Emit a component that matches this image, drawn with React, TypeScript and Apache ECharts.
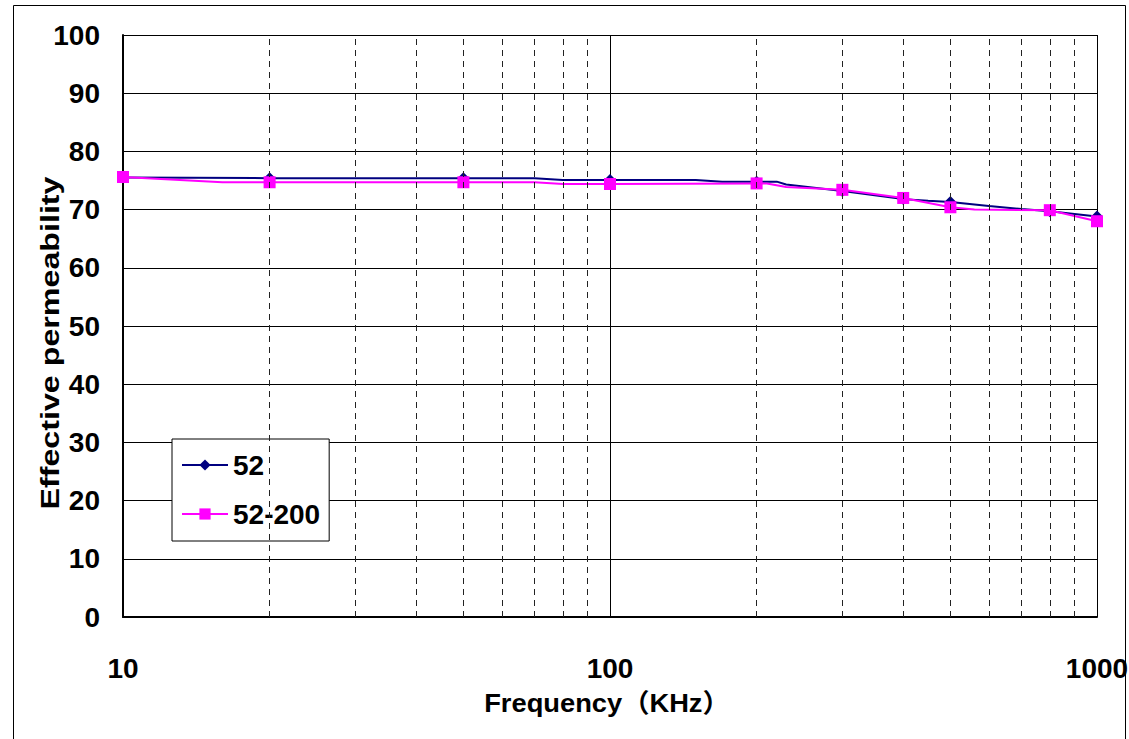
import React, { useEffect, useRef } from "react";
import * as echarts from "echarts";

// Frequency (KHz) and effective permeability for sample "52"
const freq52 = [10, 20, 50, 70, 80, 100, 150, 170, 200, 220, 230, 300, 400, 450, 500, 600, 700, 800, 1000];
const perm52 = [75.5, 75.4, 75.4, 75.4, 75.1, 75.1, 75.1, 74.8, 74.8, 74.8, 74.3, 73.2, 71.8, 71.5, 71.3, 70.6, 70.1, 69.7, 68.8];

// Frequency (KHz) and effective permeability for sample "52-200"
const freq52200 = [10, 16, 20, 50, 70, 80, 100, 200, 210, 230, 300, 400, 500, 560, 800, 1000];
const perm52200 = [75.6, 74.7, 74.7, 74.7, 74.7, 74.4, 74.4, 74.5, 74.5, 73.9, 73.4, 72.0, 70.4, 70.0, 69.9, 68.0];

// Frequencies that carry a marker
const markedFreqs = [10, 20, 50, 100, 200, 300, 400, 500, 800, 1000];

// Minor (dashed) vertical grid lines
const minorFreqs = [20, 30, 40, 50, 60, 70, 80, 90, 200, 300, 400, 500, 600, 700, 800, 900];

const seriesNames = ["52", "52-200"];
const xTitle = "Frequency（KHz）";
const yTitle = "Effective permeability";

const NARROW = "'Liberation Sans Narrow', 'Arial Narrow', 'Liberation Sans', Arial, sans-serif";
const SANS = "'Liberation Sans', Arial, 'Noto Sans CJK SC', sans-serif";

function build(freqs: number[], vals: number[]) {
  return freqs.map((f, i) =>
    markedFreqs.includes(f) ? { value: [f, vals[i]] } : { value: [f, vals[i]], symbol: "none" }
  );
}

export default function App() {
  const ref = useRef<HTMLDivElement>(null);
  useEffect(() => {
    if (!ref.current) return;
    const chart = echarts.init(ref.current, undefined, { renderer: "svg" });
    chart.setOption({
      animation: false,
      backgroundColor: "#ffffff",
      grid: { left: 123, right: 32, top: 35, bottom: 122, outerBoundsMode: "none", containLabel: false },
      xAxis: {
        type: "log",
        logBase: 10,
        min: 10,
        max: 1000,
        axisLine: { show: true, lineStyle: { color: "#000", width: 2 } },
        axisTick: { show: false },
        axisLabel: {
          margin: 37,
          color: "#000",
          fontFamily: NARROW,
          fontWeight: "bold",
          fontSize: 28,
          formatter: (v: number) => String(Math.round(v)),
        },
        splitLine: { show: true, lineStyle: { color: "#000", width: 1 } },
      },
      yAxis: {
        type: "value",
        min: 0,
        max: 100,
        interval: 10,
        axisLine: { show: true, lineStyle: { color: "#000", width: 2 } },
        axisTick: { show: false },
        axisLabel: {
          margin: 23,
          color: "#000",
          fontFamily: NARROW,
          fontWeight: "bold",
          fontSize: 28,
        },
        splitLine: { show: true, lineStyle: { color: "#000", width: 1 } },
      },
      legend: {
        orient: "vertical",
        left: 172,
        top: 439,
        backgroundColor: "#fff",
        borderColor: "#000",
        borderWidth: 1,
        padding: [12, 9, 13, 9],
        itemGap: 21,
        itemWidth: 46,
        itemHeight: 14,
        textStyle: {
          color: "#000",
          fontFamily: NARROW,
          fontWeight: "bold",
          fontSize: 28,
        },
        data: seriesNames,
      },
      graphic: [
        {
          type: "rect",
          shape: { x: 13.5, y: 5.5, width: 1112, height: 760 },
          style: { fill: "none", stroke: "#000", lineWidth: 1 },
          silent: true,
        },
        {
          type: "text",
          x: 607,
          y: 703,
          scaleX: 1.05,
          style: {
            text: xTitle,
            fill: "#000",
            font: `bold 26px ${SANS}`,
            align: "center",
            verticalAlign: "middle",
          },
        },
        {
          type: "text",
          x: 50,
          y: 343,
          rotation: Math.PI / 2,
          scaleX: 1.24,
          style: {
            text: yTitle,
            fill: "#000",
            font: `bold 26px ${SANS}`,
            align: "center",
            verticalAlign: "middle",
          },
        },
      ],
      series: [
        {
          name: seriesNames[0],
          type: "line",
          data: build(freq52, perm52),
          symbol: "diamond",
          symbolSize: 12,
          lineStyle: { color: "#000080", width: 2 },
          itemStyle: { color: "#000080" },
          z: 3,
          markLine: {
            silent: true,
            symbol: "none",
            label: { show: false },
            lineStyle: { color: "#222", width: 1, type: [6, 5] },
            data: minorFreqs.map((f) => ({ xAxis: f })),
          },
        },
        {
          name: seriesNames[1],
          type: "line",
          data: build(freq52200, perm52200),
          symbol: "rect",
          symbolSize: 12,
          lineStyle: { color: "#FF00FF", width: 2 },
          itemStyle: { color: "#FF00FF" },
          z: 4,
        },
      ],
    });
    return () => chart.dispose();
  }, []);
  return (
    <div
      ref={ref}
      style={{ position: "fixed", left: 0, top: 0, width: 1129, height: 739 }}
    />
  );
}
